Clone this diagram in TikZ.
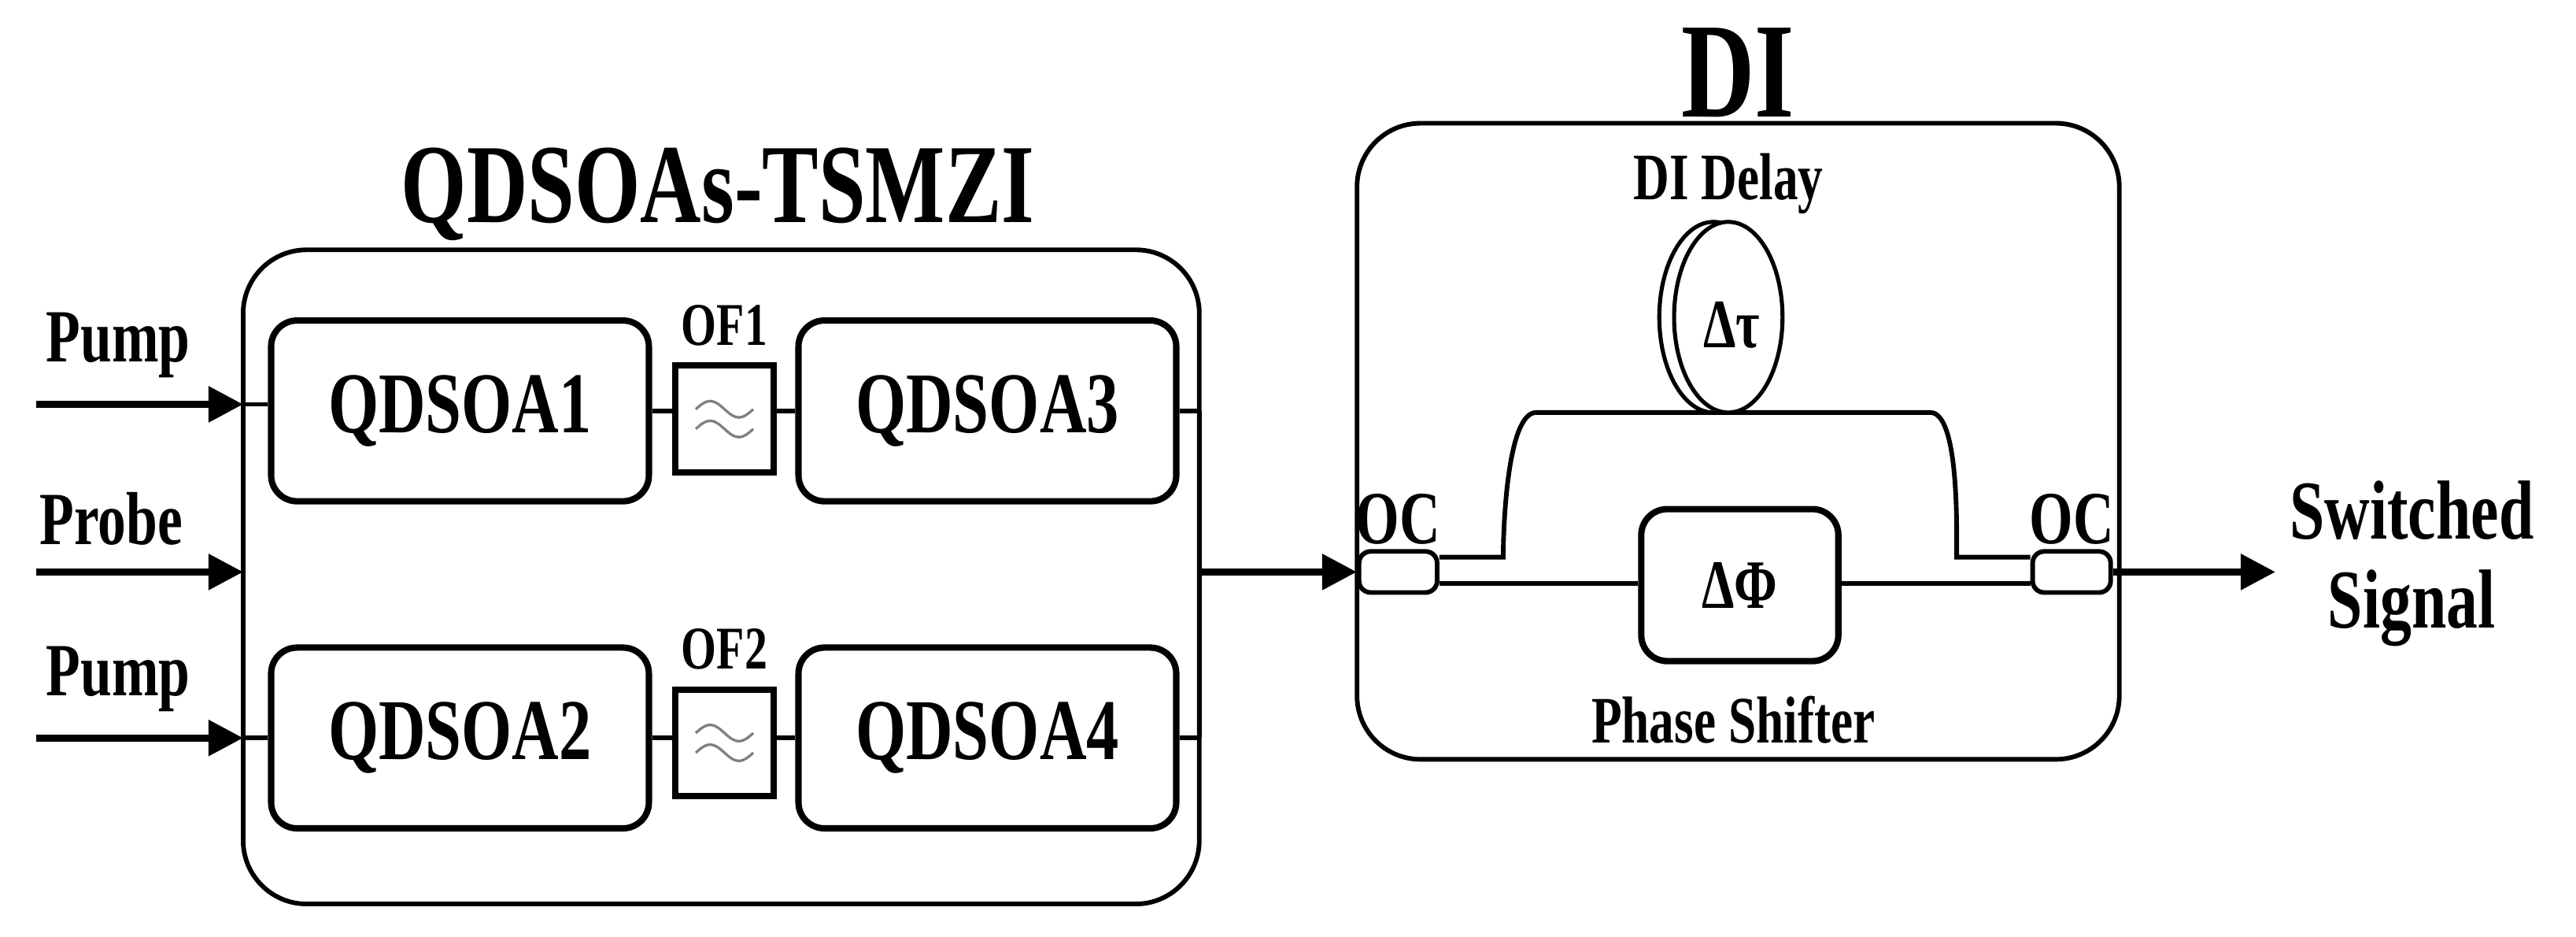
\documentclass[tikz,border=0pt]{standalone}
\usepackage{fontspec}
\setmainfont{Liberation Serif}[FakeStretch=0.75]
\usetikzlibrary{arrows.meta}
\begin{document}
\begin{tikzpicture}[x=0.02cm,y=-0.02cm,
  big/.style={draw,line width=1.6pt,rounded corners=22pt},
  soa/.style={draw,line width=2.2pt,rounded corners=9pt,minimum width=4.6cm,minimum height=2.2cm,font=\bfseries\fontsize{30}{30}\selectfont},
  filt/.style={draw,line width=2.2pt,minimum width=1.2cm,minimum height=1.3cm},
  oc/.style={draw,line width=1.6pt,rounded corners=4pt,minimum width=0.95cm,minimum height=0.5cm},
  lab/.style={font=\bfseries\fontsize{26}{26}\selectfont},
  wire/.style={line width=1.6pt},
  arr/.style={line width=2.4pt,-{Triangle[length=12pt,width=12pt]}}]
\useasboundingbox (0,0) rectangle (1568,570);
% left block
\draw[big] (148,152) rectangle (730,550);
\node[font=\bfseries\fontsize{39}{39}\selectfont] (t1) at (437,118) {QDSOAs-TSMZI};
\node[soa] (a1) at (280,250) {QDSOA1};
\node[soa] (a3) at (601,250) {QDSOA3};
\node[soa] (a2) at (280,449) {QDSOA2};
\node[soa] (a4) at (601,449) {QDSOA4};
\node[filt] (f1) at (441,255) {};
\node[filt] (f2) at (441,452) {};
\node[lab,font=\bfseries\fontsize{21}{21}\selectfont] at (441,198) {OF1};
\node[lab,font=\bfseries\fontsize{21}{21}\selectfont] at (441,395) {OF2};
\foreach \f in {f1,f2}{
  \draw[gray,line width=0.9pt] ([xshift=-0.35cm,yshift=0.12cm]\f.center) sin ++(0.175cm,0.1cm) cos ++(0.175cm,-0.1cm) sin ++(0.175cm,-0.1cm) cos ++(0.175cm,0.1cm);
  \draw[gray,line width=0.9pt] ([xshift=-0.35cm,yshift=-0.12cm]\f.center) sin ++(0.175cm,0.1cm) cos ++(0.175cm,-0.1cm) sin ++(0.175cm,-0.1cm) cos ++(0.175cm,0.1cm);
}
\draw[wire] (a1.east) -- (f1.west |- a1.east);
\draw[wire] (f1.east |- a3.west) -- (a3.west);
\draw[wire] (a2.east) -- (f2.west |- a2.east);
\draw[wire] (f2.east |- a4.west) -- (a4.west);
\coordinate (l1) at (148,246);
\coordinate (l2) at (148,348);
\coordinate (l3) at (148,449);
\coordinate (r1) at (730,250);
\coordinate (r2) at (730,449);
\draw[wire] (l1) -- (a1.west |- l1);
\draw[wire] (l3) -- (a2.west |- l3);
\draw[wire] (a3.east) -- (r1);
\draw[wire] (a4.east) -- (r2);
\coordinate (p1) at (22,246);
\coordinate (p2) at (22,348);
\coordinate (p3) at (22,449);
\draw[arr] (p1) -- (l1);
\draw[arr] (p2) -- (l2);
\draw[arr] (p3) -- (l3);
\node[lab,anchor=south west] at (22,236) {Pump};
\node[lab,anchor=south west] at (18,338) {Probe};
\node[lab,anchor=south west] at (22,439) {Pump};
% DI block
\draw[big] (826,75) rectangle (1290,462);
\node[font=\bfseries\fontsize{47}{47}\selectfont] (t2) at (1058,44) {DI};
\node[lab,font=\bfseries\fontsize{23}{23}\selectfont] at (1052,112) {DI Delay};
\node[oc] (oc1) at (851,348) {};
\node[oc] (oc2) at (1261,348) {};
\node[lab] at (851,316) {OC};
\node[lab] at (1261,316) {OC};
\node[draw,line width=2.2pt,rounded corners=9pt,minimum width=2.4cm,minimum height=1.85cm,font=\bfseries\fontsize{24}{24}\selectfont] (ps) at (1059,356) {ΔΦ};
\node[lab,font=\bfseries\fontsize{23}{23}\selectfont] at (1055,438) {Phase Shifter};
\draw[wire] (oc1.east |- 0,339) -- (915,339) to[out=90,in=180,looseness=0.5] (935,251) -- (1175,251) to[out=0,in=90,looseness=0.5] (1191,339) -- (oc2.west |- 0,339);
\draw[line width=1.4pt,fill=white] (1043,193) ellipse (33 and 58);
\draw[line width=1.4pt,fill=white] (1052,193) ellipse (33 and 58);
\node[font=\bfseries\fontsize{24}{24}\selectfont] (dt) at (1054,198) {Δτ};
\draw[wire] (oc1.east |- 0,355) -- (ps.west |- 0,355);
\draw[wire] (ps.east |- 0,355) -- (oc2.west |- 0,355);
\draw[arr] (r1 |- l2) -- (oc1.west);
\draw[wire] (r1) -- (r2);
\coordinate (out) at (1385,348);
\draw[arr] (oc2.east) -- (out);
\node[font=\bfseries\fontsize{29}{31}\selectfont,align=center] at (1468,343) {Switched\\Signal};
\end{tikzpicture}
\end{document}
